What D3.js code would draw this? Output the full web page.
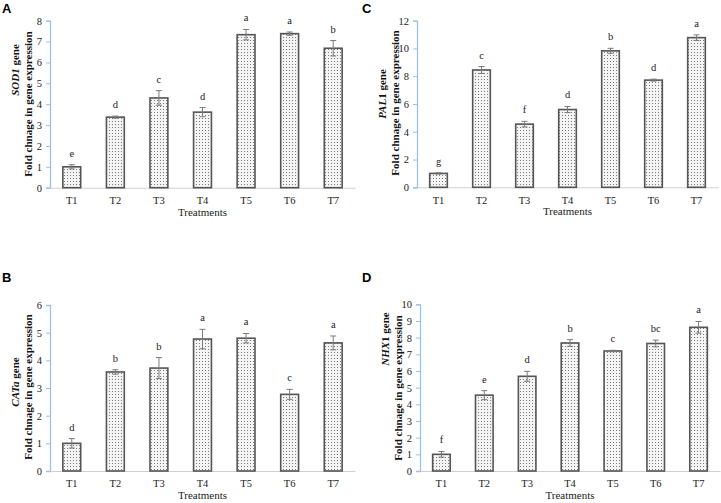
<!DOCTYPE html>
<html><head><meta charset="utf-8">
<script src="https://cdn.jsdelivr.net/npm/d3@7"></script>
<style>body{margin:0;background:#fff}svg{display:block}</style>
</head><body>
<svg id="c" width="721" height="503"></svg>
<script>
const treatments = ["T1","T2","T3","T4","T5","T6","T7"];
const sodValues = [1.0, 3.38, 4.3, 3.62, 7.33, 7.38, 6.68];
const sodErrors = [0.1, 0.05, 0.35, 0.22, 0.25, 0.08, 0.37];
const sodLetters = ["e","d","c","d","a","a","b"];
const sodTicks = [0,1,2,3,4,5,6,7,8];
const palValues = [1.0, 8.45, 4.55, 5.6, 9.83, 7.72, 10.78];
const palErrors = [0.05, 0.25, 0.2, 0.22, 0.18, 0.07, 0.2];
const palLetters = ["g","c","f","d","b","d","a"];
const palTicks = [0,2,4,6,8,10,12];
const catValues = [1.0, 3.58, 3.72, 4.77, 4.8, 2.77, 4.63];
const catErrors = [0.17, 0.08, 0.38, 0.35, 0.17, 0.18, 0.25];
const catLetters = ["d","b","b","a","a","c","a"];
const catTicks = [0,1,2,3,4,5,6];
const nhxValues = [1.0, 4.55, 5.68, 7.68, 7.2, 7.65, 8.62];
const nhxErrors = [0.17, 0.27, 0.3, 0.2, 0.04, 0.2, 0.35];
const nhxLetters = ["f","e","d","b","c","bc","a"];
const nhxTicks = [0,1,2,3,4,5,6,7,8,9,10];

const svg = d3.select("#c");
const defs = svg.append("defs");
const pat = defs.append("pattern").attr("id","dots").attr("patternUnits","userSpaceOnUse")
  .attr("width",3).attr("height",3);
pat.append("rect").attr("width",3).attr("height",3).attr("fill","#f4f4f4");
pat.append("rect").attr("x",1).attr("y",1).attr("width",1).attr("height",1).attr("fill","#7a7a7a");

const serif = "'Liberation Serif','Times New Roman',serif";

function panel(cfg){
  const g = svg.append("g");
  const x = d3.scaleBand().domain(treatments).range([cfg.x0, cfg.x1]).paddingInner(0.59).paddingOuter(0.295);
  const y = d3.scaleLinear().domain([0, d3.max(cfg.ticks)]).range([cfg.y0, cfg.yTop]);
  const ya = g.append("g").attr("transform",`translate(${cfg.x0},0)`)
    .call(d3.axisLeft(y).tickValues(cfg.ticks).tickFormat(d3.format("d")).tickSize(4).tickPadding(4));
  ya.select(".domain").attr("stroke","#9cc2e5").attr("stroke-width",1.3);
  ya.selectAll(".tick line").attr("stroke","#9cc2e5");
  ya.selectAll("text").attr("font-family",serif).attr("font-size",10.5).attr("fill","#222");
  const xa = g.append("g").attr("transform",`translate(0,${cfg.y0})`)
    .call(d3.axisBottom(x).tickSize(0).tickPadding(9));
  xa.select(".domain").attr("stroke","#d0d0d0").attr("stroke-width",1);
  xa.selectAll("text").attr("font-family",serif).attr("font-size",10.5).attr("fill","#222");
  const data = treatments.map((t,i)=>({t, v:cfg.values[i], e:cfg.errors[i], l:cfg.letters[i]}));
  g.selectAll("rect.bar").data(data).join("rect").attr("class","bar")
    .attr("x",d=>x(d.t)).attr("width",x.bandwidth())
    .attr("y",d=>y(d.v)).attr("height",d=>y(0)-y(d.v))
    .attr("fill","url(#dots)").attr("stroke","#555").attr("stroke-width",1.6);
  const eb = g.selectAll("g.eb").data(data).join("g").attr("class","eb")
    .attr("stroke","#7a7a7a").attr("stroke-width",1);
  const cx = d=>x(d.t)+x.bandwidth()/2;
  eb.append("line").attr("x1",cx).attr("x2",cx)
    .attr("y1",d=>y(d.v-d.e)).attr("y2",d=>y(d.v+d.e));
  eb.append("line").attr("x1",d=>cx(d)-3).attr("x2",d=>cx(d)+3)
    .attr("y1",d=>y(d.v+d.e)).attr("y2",d=>y(d.v+d.e));
  eb.append("line").attr("x1",d=>cx(d)-3).attr("x2",d=>cx(d)+3)
    .attr("y1",d=>y(d.v-d.e)).attr("y2",d=>y(d.v-d.e));
  g.selectAll("text.lt").data(data).join("text").attr("class","lt")
    .attr("x",cx).attr("y",d=>y(d.v+d.e)-8)
    .attr("text-anchor","middle").attr("font-family",serif).attr("font-size",10.5).attr("fill","#222")
    .text(d=>d.l);
  g.append("text").attr("x",(cfg.x0+cfg.x1)/2).attr("y",cfg.y0+28).attr("text-anchor","middle")
    .attr("font-family",serif).attr("font-size",11).attr("fill","#222").text("Treatments");
  const t1 = g.append("text").attr("transform",`translate(${cfg.x0-31},${cfg.label1Y}) rotate(-90)`)
    .attr("text-anchor","middle").attr("font-family",serif).attr("font-size",11).attr("font-weight","bold").attr("fill","#111");
  t1.append("tspan").attr("font-style","italic").text(cfg.geneItal);
  if(cfg.geneRest) t1.append("tspan").text(cfg.geneRest);
  t1.append("tspan").text(" gene");
  g.append("text").attr("transform",`translate(${cfg.x0-18},${cfg.label2Y}) rotate(-90)`)
    .attr("text-anchor","middle").attr("font-family",serif).attr("font-size",11).attr("font-weight","bold").attr("fill","#111")
    .text("Fold chnage in gene expression");
  g.append("text").attr("x",cfg.lx).attr("y",cfg.ly).attr("font-family","Arial,'Liberation Sans',sans-serif")
    .attr("font-size",13).attr("font-weight","bold").attr("fill","#000").text(cfg.panel);
}

panel({panel:"A", lx:2, ly:13, x0:50, x1:355, y0:187.7, yTop:20.7, ticks:sodTicks,
  values:sodValues, errors:sodErrors, letters:sodLetters, geneItal:"SOD1", geneRest:"", label1Y:70, label2Y:104});
panel({panel:"C", lx:362, ly:13, x0:417, x1:718, y0:187.3, yTop:20.7, ticks:palTicks,
  values:palValues, errors:palErrors, letters:palLetters, geneItal:"PAL", geneRest:"1", label1Y:94, label2Y:103});
panel({panel:"B", lx:2, ly:282, x0:50, x1:355, y0:471, yTop:305, ticks:catTicks,
  values:catValues, errors:catErrors, letters:catLetters, geneItal:"CATa", geneRest:"", label1Y:382, label2Y:387});
panel({panel:"D", lx:362, ly:282, x0:420, x1:720, y0:471, yTop:304.3, ticks:nhxTicks,
  values:nhxValues, errors:nhxErrors, letters:nhxLetters, geneItal:"NHX", geneRest:"1", label1Y:339, label2Y:388});
</script>
</body></html>
